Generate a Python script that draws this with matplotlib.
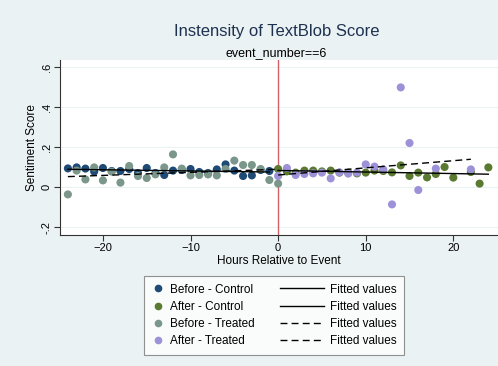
import matplotlib
matplotlib.use("Agg")
import matplotlib.pyplot as plt
from matplotlib.lines import Line2D
from matplotlib.legend_handler import HandlerLine2D
import numpy as np

plt.rcParams["font.family"] = ["Liberation Sans", "DejaVu Sans"]

# hours before the event: -24 .. -1 (control), -24 .. 0 (treated)
hours_before_ctrl = list(range(-24, 0))
before_ctrl = [0.093, 0.098, 0.092, 0.077, 0.095, 0.080, 0.080, 0.090, 0.070, 0.095,
               0.070, 0.060, 0.082, 0.085, 0.090, 0.075, 0.070, 0.088, 0.113, 0.082,
               0.055, 0.058, 0.085, 0.080]

hours_before_trt = list(range(-24, 1))
before_trt = [-0.037, 0.082, 0.038, 0.098, 0.033, 0.077, 0.022, 0.105, 0.055, 0.045,
              0.063, 0.098, 0.163, 0.092, 0.058, 0.060, 0.063, 0.058, 0.090, 0.132,
              0.110, 0.110, 0.090, 0.035, 0.017]

hours_after_ctrl = [0, 1, 2, 3, 4, 5, 6, 7, 8, 9, 10, 11, 12, 13, 14, 15, 16, 17, 18,
                    19, 20, 22, 23, 24]
after_ctrl = [0.090, 0.078, 0.072, 0.082, 0.082, 0.078, 0.082, 0.072, 0.072, 0.068,
              0.072, 0.082, 0.080, 0.073, 0.108, 0.055, 0.072, 0.048, 0.065, 0.100,
              0.047, 0.075, 0.017, 0.098]

hours_after_trt = [0, 1, 2, 3, 4, 5, 6, 7, 8, 9, 10, 11, 12, 13, 14, 15, 16, 18, 22]
after_trt = [0.055, 0.095, 0.060, 0.065, 0.068, 0.072, 0.043, 0.073, 0.067, 0.072,
             0.113, 0.102, 0.088, -0.087, 0.498, 0.220, -0.015, 0.092, 0.088]

series = [
    ("Before - Control", hours_before_ctrl, before_ctrl, "#1f4a75", "-"),
    ("After - Control", hours_after_ctrl, after_ctrl, "#5a7a32", "-"),
    ("Before - Treated", hours_before_trt, before_trt, "#7b968a", (0, (5, 3))),
    ("After - Treated", hours_after_trt, after_trt, "#9d91d8", (0, (5, 3))),
]


class LongLine(HandlerLine2D):
    # fitted-value keys are longer than the dot keys, so let the line run left
    def get_xdata(self, legend, xdescent, ydescent, width, height, fontsize):
        x1 = width - xdescent
        xd = np.array([x1 - 32.0, x1])
        return xd, xd


bg = "#eaf2f3"
fig = plt.figure(figsize=(4.98, 3.66), dpi=100)
fig.patch.set_facecolor(bg)
ax = fig.add_axes([60 / 498, 1 - 235 / 366, 438 / 498, 175 / 366])
ax.set_facecolor("white")

for name, x, y, c, ls in series:
    ax.scatter(x, y, s=34, color=c, edgecolors="none", zorder=3)

for name, x, y, c, ls in series:
    xs = np.array(x, dtype=float)
    b, a = np.polyfit(xs, np.array(y), 1)
    xx = np.array([xs.min(), xs.max()])
    ax.plot(xx, a + b * xx, color="black", lw=1.0, ls=ls, zorder=4)

ax.axvline(0, color="#d4606a", lw=1.0, zorder=2)

ax.set_xlim(-24.9, 25.1)
ax.set_ylim(-0.24, 0.635)
ax.set_xticks([-20, -10, 0, 10, 20])
ax.set_yticks([-0.2, 0, 0.2, 0.4, 0.6])
ax.set_yticklabels(["-.2", "0", ".2", ".4", ".6"], rotation=90, va="center")
ax.tick_params(labelsize=8, length=4, width=0.8, color="#333333", pad=2)
ax.grid(axis="y", color=bg, lw=0.8, zorder=0)
ax.set_axisbelow(True)
for s in ["top", "right"]:
    ax.spines[s].set_visible(False)
for s in ["left", "bottom"]:
    ax.spines[s].set_color("#333333")
    ax.spines[s].set_linewidth(0.8)

ax.set_xlabel("Hours Relative to Event", fontsize=8.5, labelpad=1)
ax.set_ylabel("Sentiment Score", fontsize=8.5, labelpad=3)

fig.text(0.555, 0.915, "Instensity of TextBlob Score", ha="center", va="center",
         fontsize=12, color="#1e3250")
fig.text(0.555, 0.855, "event_number==6", ha="center", va="center", fontsize=9)

dots = [Line2D([], [], ls="none", marker="o", ms=4.5, color=c) for _, _, _, c, _ in series]
fits = [Line2D([], [], color="black", lw=1.0, ls=ls) for _, _, _, _, ls in series]
labels = [s[0] for s in series] + ["Fitted values"] * 4
hmap = {h: LongLine() for h in fits}
leg = fig.legend(dots + fits, labels, ncol=2, loc="center", bbox_to_anchor=(0.551, 0.138),
                 fontsize=8.5, frameon=True, fancybox=False, edgecolor="#777777",
                 handlelength=1.0, handletextpad=0.5, columnspacing=4.9,
                 labelspacing=0.45, borderpad=0.65, handler_map=hmap)
leg.get_frame().set_linewidth(0.8)

fig.savefig("out.png", dpi=100, facecolor=fig.get_facecolor())
